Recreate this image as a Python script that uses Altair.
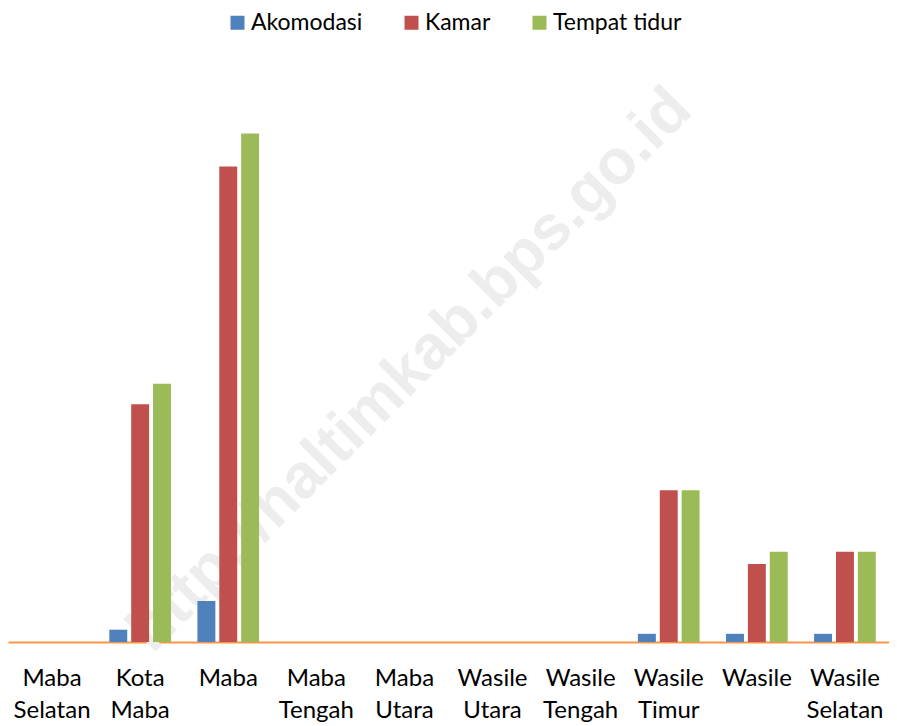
import altair as alt
import pandas as pd

categories = ["Maba Selatan", "Kota Maba", "Maba", "Maba Tengah", "Maba Utara",
              "Wasile Utara", "Wasile Tengah", "Wasile Timur", "Wasile", "Wasile Selatan"]
series = ["Akomodasi", "Kamar", "Tempat tidur"]
akomodasi = [0, 3, 10, 0, 0, 0, 0, 2, 2, 2]
kamar = [0, 58, 116, 0, 0, 0, 0, 37, 19, 22]
tempat_tidur = [0, 63, 124, 0, 0, 0, 0, 37, 22, 22]
colors = ["#4F81BD", "#C0504D", "#9BBB59"]
watermark = "http://haltimkab.bps.go.id"

rows = []
for s, vals in zip(series, [akomodasi, kamar, tempat_tidur]):
    for c, v in zip(categories, vals):
        rows.append({"Kecamatan": c, "Seri": s, "Nilai": v})
df = pd.DataFrame(rows)

W, H = 881, 574

x = alt.X("Kecamatan:N", sort=categories,
          scale=alt.Scale(domain=categories, paddingInner=0.3, paddingOuter=0.15),
          axis=alt.Axis(title=None, labelAngle=0, ticks=False, domainColor="#F79646",
                        domainWidth=2, labelFont="Lato", labelFontSize=24, labelColor="#000000",
                        labelPadding=24, labelLineHeight=32, labelBaseline="top",
                        labelExpr="split(datum.label, ' ')"))

bars = alt.Chart(df).mark_bar().encode(
    x=x,
    xOffset=alt.XOffset("Seri:N", sort=series, scale=alt.Scale(domain=series, paddingInner=0.18, paddingOuter=0)),
    y=alt.Y("Nilai:Q", scale=alt.Scale(domain=[0, 140]), axis=None),
    color=alt.Color("Seri:N", sort=series,
                    scale=alt.Scale(domain=series, range=colors),
                    legend=alt.Legend(title=None, orient="none", direction="horizontal",
                                      legendX=218, legendY=-57, symbolType="square",
                                      symbolSize=196, symbolStrokeWidth=0,
                                      labelFont="Lato", labelFontSize=23, labelColor="#000000",
                                      labelOffset=2, columnPadding=37, padding=0)),
)

wm = alt.Chart(pd.DataFrame({"t": [watermark]})).mark_text(
    font="Liberation Sans", fontWeight="bold", fontSize=63, angle=315,
    align="center", baseline="middle", color="#ededed"
).encode(text="t:N", x=alt.value(402), y=alt.value(302))

chart = alt.layer(wm, bars).properties(
    width=W, height=H,
    autosize=alt.AutoSizeParams(type="none"),
    padding={"left": 0, "top": 60, "right": 0, "bottom": 80},
).configure_view(stroke=None)

chart.save("out.html", embed_options={"renderer": "svg", "actions": False})
